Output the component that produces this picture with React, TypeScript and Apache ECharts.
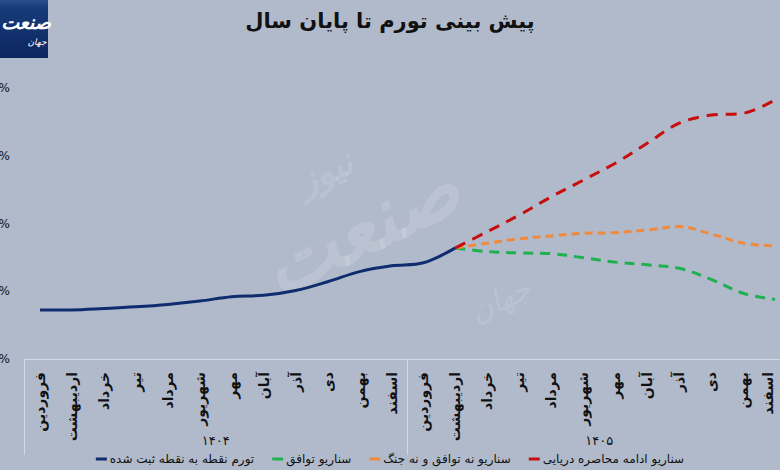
import React, { useEffect, useRef } from "react";
import * as echarts from "echarts";

const months = ["فروردین", "اردیبهشت", "خرداد", "تیر", "مرداد", "شهریور", "مهر", "آبان", "آذر", "دی", "بهمن", "اسفند"];
const categories = [...months, ...months];
const years = ["۱۴۰۴", "۱۴۰۵"];

const seriesNames = [
  "تورم نقطه به نقطه ثبت شده",
  "سناریو توافق",
  "سناریو نه توافق و نه جنگ",
  "سناریو ادامه محاصره دریایی",
];

const recorded = [34.5, 34.5, 34.9, 35.4, 36.1, 37.1, 38.4, 38.8, 40.2, 42.8, 45.8, 47.5, 48.4, 52.8];
const agreement = [null, null, null, null, null, null, null, null, null, null, null, null, null, 52.8, 51.7, 51.3, 51.1, 49.9, 48.6, 47.8, 46.8, 43.5, 39.4, 37.6];
const neither = [null, null, null, null, null, null, null, null, null, null, null, null, null, 52.8, 54.2, 55.5, 56.3, 57.1, 57.3, 58.1, 59.1, 56.9, 54.2, 53.4];
const blockade = [null, null, null, null, null, null, null, null, null, null, null, null, null, 52.8, 57.6, 62.5, 67.9, 72.8, 77.8, 83.7, 89.6, 92.0, 92.5, 96.5];

const yMin = 20;
const yMax = 100;
const yStep = 20;
// only the percent sign of the tick labels is visible in the reference
const yTickLabel = "%";

const FONT = "DejaVu Sans";

export default function App() {
  const ref = useRef<HTMLDivElement>(null);
  useEffect(() => {
    document.body.style.margin = "0";
    document.body.style.overflow = "hidden";
    const chart = echarts.init(ref.current!, undefined, { renderer: "svg" });
    const dashed = (name: string, data: any[], color: string, dash: number[]) => ({
      name,
      type: "line",
      data,
      smooth: 0.35,
      symbol: "none",
      lineStyle: { color, width: 3, type: dash },
      itemStyle: { color },
      z: 3,
    });
    // keep the last (edge) label inside the picture
    const axisData = categories.map((c, i) =>
      i === categories.length - 1 ? { value: c, textStyle: { verticalAlign: "bottom" } } : c
    );
    chart.setOption({
      animation: false,
      backgroundColor: "#b0bacb",
      textStyle: { fontFamily: FONT },
      title: {
        text: "پیش بینی تورم تا پایان سال",
        left: "center",
        top: 5,
        textStyle: { fontFamily: FONT, fontSize: 21, fontWeight: "bold", color: "#111" },
      },
      graphic: [
        {
          type: "rect",
          shape: { x: 0, y: 0, width: 48, height: 58 },
          style: {
            fill: new echarts.graphic.LinearGradient(0, 0, 0, 1, [
              { offset: 0, color: "#2a4f8f" },
              { offset: 0.15, color: "#173a78" },
              { offset: 1, color: "#0c2660" },
            ]),
          },
          z: 10,
        },
        {
          type: "text",
          x: 26,
          y: 22,
          style: { text: "صنعت", fill: "#fff", font: "bold italic 19px DejaVu Sans", align: "center", verticalAlign: "middle" },
          z: 11,
        },
        {
          type: "text",
          x: 37,
          y: 42,
          style: { text: "جهان", fill: "#fff", font: "italic 9px DejaVu Sans", align: "center", verticalAlign: "middle" },
          z: 11,
        },
        {
          type: "text",
          x: 360,
          y: 228,
          rotation: 0.45,
          style: { text: "صنعت", fill: "rgba(255,255,255,0.14)", font: "italic bold 80px DejaVu Sans", align: "center", verticalAlign: "middle" },
          z: 0,
        },
        {
          type: "text",
          x: 325,
          y: 172,
          rotation: 0.45,
          style: { text: "نیوز", fill: "rgba(255,255,255,0.14)", font: "italic bold 36px DejaVu Sans", align: "center", verticalAlign: "middle" },
          z: 0,
        },
        {
          type: "text",
          x: 500,
          y: 300,
          rotation: 0.45,
          style: { text: "جهان", fill: "rgba(255,255,255,0.14)", font: "italic 30px DejaVu Sans", align: "center", verticalAlign: "middle" },
          z: 0,
        },
      ],
      legend: {
        data: seriesNames,
        left: "center",
        top: 448,
        icon: "rect",
        itemWidth: 11,
        itemHeight: 3,
        itemGap: 18,
        textStyle: { fontFamily: FONT, fontSize: 12, color: "#111", padding: [0, 0, 0, -2] },
      },
      grid: {
        left: 24,
        top: 88,
        width: 767,
        height: 271,
        containLabel: false,
        outerBoundsMode: "none",
      },
      xAxis: [
        {
          type: "category",
          data: axisData,
          boundaryGap: true,
          axisLine: { show: true, lineStyle: { color: "#d3d9e3", width: 1 } },
          axisTick: {
            show: true,
            interval: (i: number) => i % 12 === 0,
            length: 96,
            lineStyle: { color: "#d3d9e3", width: 1 },
          },
          axisLabel: {
            interval: 0,
            rotate: 90,
            margin: 13,
            fontFamily: FONT,
            fontSize: 14,
            fontWeight: "bold",
            color: "#111",
          },
        },
        {
          type: "category",
          data: years,
          position: "bottom",
          offset: 75,
          axisLine: { show: false },
          axisTick: { show: false },
          axisLabel: { interval: 0, margin: 0, fontFamily: FONT, fontSize: 13, color: "#111" },
        },
      ],
      yAxis: {
        type: "value",
        min: yMin,
        max: yMax,
        interval: yStep,
        axisLine: { show: false },
        axisTick: { show: false },
        splitLine: { show: false },
        axisLabel: { formatter: () => yTickLabel, margin: 14, fontFamily: FONT, fontSize: 12, color: "#111" },
      },
      series: [
        {
          name: seriesNames[0],
          type: "line",
          data: recorded,
          smooth: 0.35,
          symbol: "none",
          lineStyle: { color: "#0f2d6e", width: 3 },
          itemStyle: { color: "#0f2d6e" },
          z: 4,
        },
        dashed(seriesNames[1], agreement, "#1fb050", [10, 7]),
        dashed(seriesNames[2], neither, "#f08a3c", [8, 5]),
        dashed(seriesNames[3], blockade, "#c80d0d", [11, 8]),
      ],
    });
    return () => chart.dispose();
  }, []);
  return <div ref={ref} style={{ position: "fixed", left: 0, top: 0, width: 780, height: 470 }} />;
}
